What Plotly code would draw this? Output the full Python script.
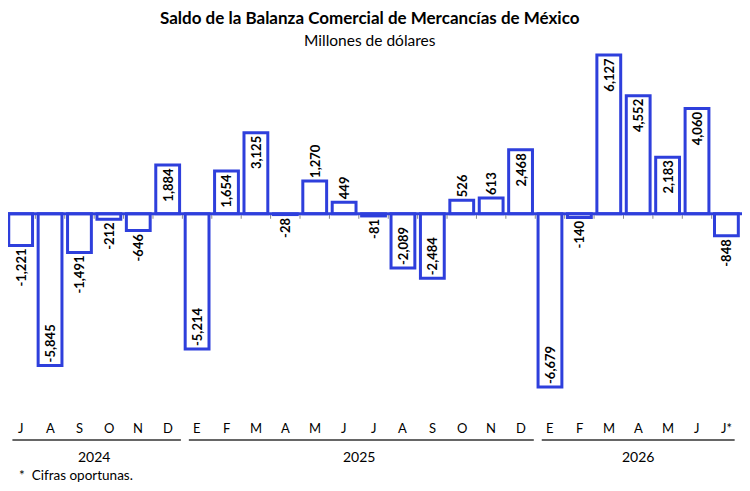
import plotly.graph_objects as go

months = ["J", "A", "S", "O", "N", "D",
          "E", "F", "M", "A", "M", "J", "J", "A", "S", "O", "N", "D",
          "E", "F", "M", "A", "M", "J", "J*"]
values = [-1221, -5845, -1491, -212, -646, 1884,
          -5214, 1654, 3125, -28, 1270, 449, -81, -2089, -2484, 526, 613, 2468,
          -6679, -140, 6127, 4552, 2183, 4060, -848]
years = ["2024", "2025", "2026"]
year_counts = [6, 12, 7]

BLUE = "#2e3fdc"
FONT = "Lato"

x = list(range(len(values)))
labels = [f"{v:,}" for v in values]
positions = ["inside" if abs(v) >= 1600 else "outside" for v in values]

fig = go.Figure()
fig.add_trace(go.Bar(
    x=x, y=values,
    width=0.81,
    marker=dict(color="white", line=dict(color=BLUE, width=3)),
    text=labels,
    textposition=positions,
    textangle=-90,
    insidetextanchor="end",
    constraintext="none",
    cliponaxis=False,
    textfont=dict(family=FONT, size=13, color="black", weight="bold"),
    insidetextfont=dict(family=FONT, size=13, color="black", weight="bold"),
    outsidetextfont=dict(family=FONT, size=13, color="black", weight="bold"),
    hoverinfo="skip",
))

shapes = []
# small category boundary ticks below the zero line
for i in range(len(values) - 1):
    shapes.append(dict(type="line", xref="x", yref="y", x0=i + 0.5, x1=i + 0.5,
                       y0=0, y1=-190, line=dict(color="#888888", width=1), layer="below"))
# zero line
shapes.append(dict(type="line", xref="x", yref="y", x0=-0.43, x1=len(values) - 0.45,
                   y0=0, y1=0, line=dict(color=BLUE, width=3), layer="above"))

annotations = []
for i, m in enumerate(months):
    annotations.append(dict(x=i, y=-0.0838, xref="x", yref="paper", text=m,
                            showarrow=False, font=dict(family=FONT, size=13, color="black"),
                            xanchor="center", yanchor="middle"))
start = 0
for k, (yr, n) in enumerate(zip(years, year_counts)):
    x0 = start - 0.28
    x1 = start + n - 0.55 if k < len(years) - 1 else start + n - 0.72
    shapes.append(dict(type="line", xref="x", yref="paper", x0=x0, x1=x1,
                       y0=-0.1173, y1=-0.1173, line=dict(color="#333333", width=1.5)))
    annotations.append(dict(x=(start + start + n - 1) / 2, y=-0.1648, xref="x", yref="paper",
                            text=yr, showarrow=False,
                            font=dict(family=FONT, size=14, color="black"),
                            xanchor="center", yanchor="middle"))
    start += n

annotations.append(dict(x=0.012, y=-0.2151, xref="paper", yref="paper",
                        text="*  Cifras oportunas.", showarrow=False,
                        font=dict(family=FONT, size=13.5, color="black"),
                        xanchor="left", yanchor="middle"))
annotations.append(dict(x=0.493, y=1.0615, xref="paper", yref="paper",
                        text="<b>Saldo de la Balanza Comercial de Mercancías de México</b>",
                        showarrow=False, font=dict(family=FONT, size=17, color="black"),
                        xanchor="center", yanchor="middle"))
annotations.append(dict(x=0.493, y=1.0, xref="paper", yref="paper",
                        text="Millones de dólares",
                        showarrow=False, font=dict(family=FONT, size=15.5, color="black"),
                        xanchor="center", yanchor="middle"))

fig.update_layout(
    width=742, height=483,
    margin=dict(l=0, r=8, t=32, b=93, pad=0),
    paper_bgcolor="white", plot_bgcolor="white",
    showlegend=False,
    xaxis=dict(range=[-0.43, 24.53], showticklabels=False, showgrid=False,
               zeroline=False, showline=False, ticks=""),
    yaxis=dict(range=[-7103, 6705], showticklabels=False, showgrid=False,
               zeroline=False, showline=False, ticks=""),
    shapes=shapes,
    annotations=annotations,
)

fig.write_html("out.html")
